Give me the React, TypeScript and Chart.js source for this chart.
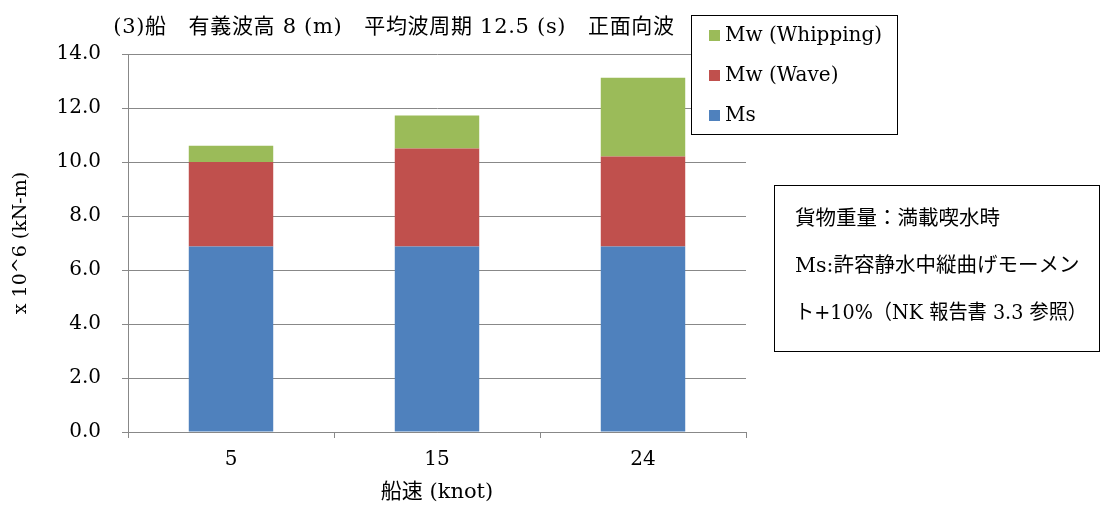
import React, { useEffect, useRef } from "react";
import { Chart, registerables } from "chart.js";

Chart.register(...registerables);

// 船速 (knot)
const speeds = ["5", "15", "24"];
// 曲げモーメント成分 (x 10^6 kN-m)
const msValues = [6.87, 6.87, 6.87];
const waveValues = [3.13, 3.63, 3.33];
const whippingValues = [0.6, 1.22, 2.92];

const yTicks = [0, 2, 4, 6, 8, 10, 12, 14];

const chartTitle = "(3)船　有義波高 8 (m)　平均波周期 12.5 (s)　正面向波";
const yAxisTitle = "x 10^6 (kN-m)";
const xAxisTitle = "船速 (knot)";
const noteLines = [
  "貨物重量：満載喫水時",
  "Ms:許容静水中縦曲げモーメン",
  "ト+10%（NK 報告書 3.3 参照）",
];

const SERIF = "'DejaVu Serif', 'Noto Sans CJK JP', serif";
const GRID = "#888888";

const overlayPlugin = {
  id: "overlay",
  afterDraw(chart: any) {
    const ctx = chart.ctx as CanvasRenderingContext2D;
    ctx.save();

    // title
    ctx.fillStyle = "#000";
    ctx.font = `21px ${SERIF}`;
    (ctx as any).letterSpacing = "0.7px";
    ctx.textAlign = "center";
    ctx.textBaseline = "middle";
    ctx.fillText(chartTitle, 394, 28);
    (ctx as any).letterSpacing = "0px";

    // legend box (series listed top-down in reverse stacking order)
    ctx.fillStyle = "#fff";
    ctx.fillRect(691, 15, 207, 119);
    ctx.strokeStyle = "#000";
    ctx.lineWidth = 1;
    ctx.strokeRect(691.5, 15.5, 206, 119);
    const sets = chart.data.datasets.slice().reverse();
    ctx.font = `20px ${SERIF}`;
    ctx.textAlign = "left";
    ctx.textBaseline = "middle";
    sets.forEach((ds: any, i: number) => {
      const cy = 35 + i * 40;
      ctx.fillStyle = ds.backgroundColor;
      ctx.fillRect(709, cy - 5, 11, 11);
      ctx.fillStyle = "#000";
      ctx.fillText(ds.label, 725, cy + 1);
    });

    // note box
    ctx.fillStyle = "#fff";
    ctx.fillRect(774, 185, 326, 167);
    ctx.strokeStyle = "#000";
    ctx.strokeRect(774.5, 185.5, 325, 166);
    ctx.fillStyle = "#000";
    ctx.font = `20.5px ${SERIF}`;
    noteLines.forEach((line, i) => {
      ctx.fillText(line, 795, 220 + i * 47, 292);
    });

    ctx.restore();
  },
};

export default function App() {
  const canvasRef = useRef<HTMLCanvasElement | null>(null);

  useEffect(() => {
    if (!canvasRef.current) return;
    const chart = new Chart(canvasRef.current, {
      type: "bar",
      data: {
        labels: speeds,
        datasets: [
          { label: "Ms", data: msValues, backgroundColor: "#4F81BD" },
          { label: "Mw (Wave)", data: waveValues, backgroundColor: "#C0504D" },
          { label: "Mw (Whipping)", data: whippingValues, backgroundColor: "#9BBB59" },
        ],
      },
      options: {
        animation: false,
        responsive: false,
        devicePixelRatio: 1,
        layout: { padding: { left: 0, top: 54, right: 354, bottom: 0 } },
        datasets: { bar: { categoryPercentage: 1, barPercentage: 0.41 } } as any,
        plugins: {
          legend: { display: false },
          title: { display: false },
          tooltip: { enabled: false },
        },
        scales: {
          x: {
            stacked: true,
            afterFit: (s: any) => {
              s.height = 74;
            },
            grid: {
              display: true,
              drawOnChartArea: false,
              drawTicks: true,
              tickLength: 6,
              color: GRID,
              offset: true,
            },
            border: { display: true, color: GRID, width: 1 },
            ticks: { color: "#000", font: { family: SERIF, size: 20 }, padding: 10 },
            title: {
              display: true,
              text: xAxisTitle,
              color: "#000",
              font: { family: SERIF, size: 21 },
              padding: { top: 0, bottom: 1 },
            },
          },
          y: {
            stacked: true,
            min: 0,
            max: 14,
            afterFit: (s: any) => {
              s.width = 128;
            },
            afterBuildTicks: (s: any) => {
              s.ticks = yTicks.map((v) => ({ value: v }));
            },
            grid: { color: GRID, tickLength: 6, lineWidth: 1 },
            border: { display: true, color: GRID, width: 1 },
            ticks: {
              color: "#000",
              font: { family: SERIF, size: 20 },
              padding: 21,
              callback: (v: any) => Number(v).toFixed(1),
            },
            title: {
              display: true,
              text: yAxisTitle,
              color: "#000",
              font: { family: SERIF, size: 19 },
              padding: { top: 10, bottom: 0 },
            },
          },
        },
      },
      plugins: [overlayPlugin],
    });
    return () => chart.destroy();
  }, []);

  return (
    <div style={{ position: "absolute", left: 0, top: 0, width: 1100, height: 506, background: "#fff" }}>
      <canvas ref={canvasRef} width={1100} height={506} style={{ display: "block" }} />
    </div>
  );
}
